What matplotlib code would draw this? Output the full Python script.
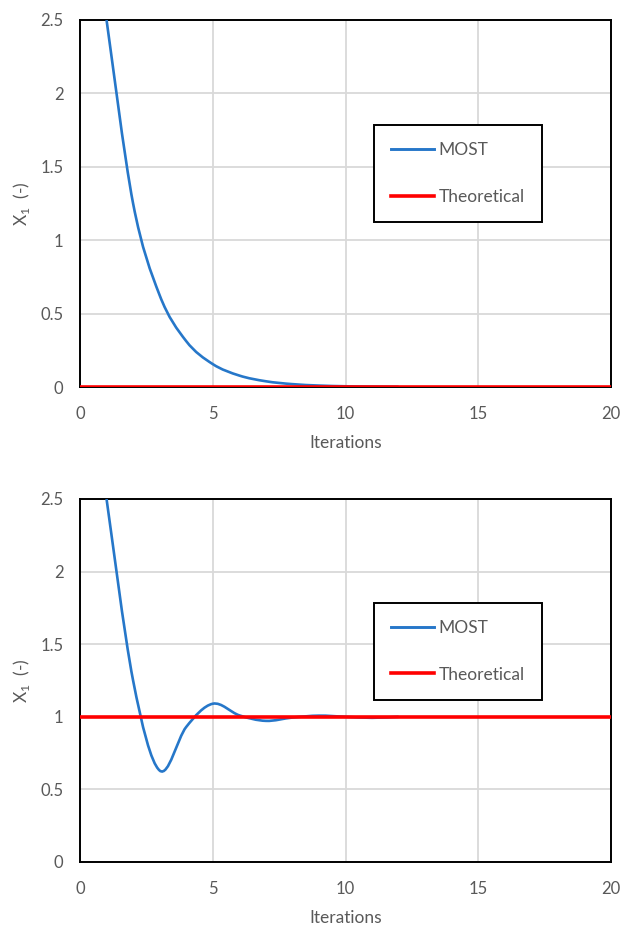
import numpy as np
import matplotlib
matplotlib.use("Agg")
import matplotlib.pyplot as plt
from matplotlib.path import Path
from matplotlib.patches import PathPatch
from matplotlib.lines import Line2D

plt.rcParams['font.family'] = ['Lato', 'DejaVu Sans']
plt.rcParams['mathtext.fontset'] = 'custom'
plt.rcParams['mathtext.rm'] = 'Lato'

# MOST iterations
most_iter = [1, 2, 3, 4, 5, 6, 7, 8, 9, 10, 11, 12]
most_top = [2.5, 1.25, 0.625, 0.3125, 0.156, 0.078, 0.039, 0.0195, 0.0098, 0.0049, 0.0024, 0.0012]
most_bottom = [2.5, 1.25, 0.63, 0.93, 1.09, 1.01, 0.972, 0.995, 1.008, 1.0, 0.993, 1.0]

# theoretical value, iterations 0..20
theo_iter = list(range(0, 21))
theo_top = [0.0] * 21
theo_bottom = [1.0] * 21

x_ticks = [0, 5, 10, 15, 20]
y_ticks = [0, 0.5, 1, 1.5, 2, 2.5]
y_ticklabels = ['0', '0.5', '1', '1.5', '2', '2.5']

BLUE = '#2677C9'
RED = '#FF0000'
GREY = '#595959'


def smooth_path(x, y):
    # Excel style smoothed line: cubic bezier through the points
    x = np.asarray(x, float)
    y = np.asarray(y, float)
    pts = np.column_stack([x, y])
    n = len(pts)
    verts = [pts[0]]
    codes = [Path.MOVETO]
    for i in range(n - 1):
        p0 = pts[i - 1] if i > 0 else pts[i]
        p1 = pts[i]
        p2 = pts[i + 1]
        p3 = pts[i + 2] if i + 2 < n else pts[i + 1]
        c1 = p1 + (p2 - p0) / 6.0
        c2 = p2 - (p3 - p1) / 6.0
        verts += [c1, c2, p2]
        codes += [Path.CURVE4] * 3
    return Path(verts, codes)


def draw_panel(ax, most, theo):
    ax.add_patch(PathPatch(smooth_path(most_iter, most), fill=False,
                           edgecolor=BLUE, lw=1.9, zorder=3))
    ax.plot(theo_iter, theo, color=RED, lw=2.6, zorder=4, solid_capstyle='butt')

    ax.set_xlim(0, 20)
    ax.set_ylim(0, 2.5)
    ax.set_xticks(x_ticks)
    ax.set_yticks(y_ticks)
    ax.set_yticklabels(y_ticklabels)
    ax.grid(True, color='#D9D9D9', lw=1.3)
    ax.set_axisbelow(True)
    ax.tick_params(length=0, labelsize=12, labelcolor=GREY)
    ax.tick_params(axis='x', pad=13.5)
    ax.tick_params(axis='y', pad=12)
    for s in ax.spines.values():
        s.set_color('black')
        s.set_linewidth(1.4)
    ax.set_xlabel('Iterations', fontsize=12.5, color=GREY, labelpad=9.5)
    ax.set_ylabel(r'X$_\mathregular{1}$  (-)', fontsize=12.5, color=GREY, labelpad=6)

    handles = [Line2D([], [], color=BLUE, lw=2.1),
               Line2D([], [], color=RED, lw=2.6)]
    leg = ax.legend(handles, ['MOST', 'Theoretical'], loc='upper left',
                    bbox_to_anchor=(0.553, 0.714), fontsize=12.5,
                    frameon=True, fancybox=False, framealpha=1,
                    edgecolor='black', handlelength=2.5, handletextpad=0.25,
                    labelspacing=1.75, borderpad=1.0, borderaxespad=0)
    leg.get_frame().set_linewidth(1.4)
    for t in leg.get_texts():
        t.set_color(GREY)


fig = plt.figure(figsize=(6.21, 9.27), dpi=100)
ax1 = fig.add_axes([80 / 621, 1 - 387 / 927, 531 / 621, 367 / 927])
ax2 = fig.add_axes([80 / 621, 1 - 862 / 927, 531 / 621, 363 / 927])

draw_panel(ax1, most_top, theo_top)
draw_panel(ax2, most_bottom, theo_bottom)

fig.savefig('out.png', dpi=100)
